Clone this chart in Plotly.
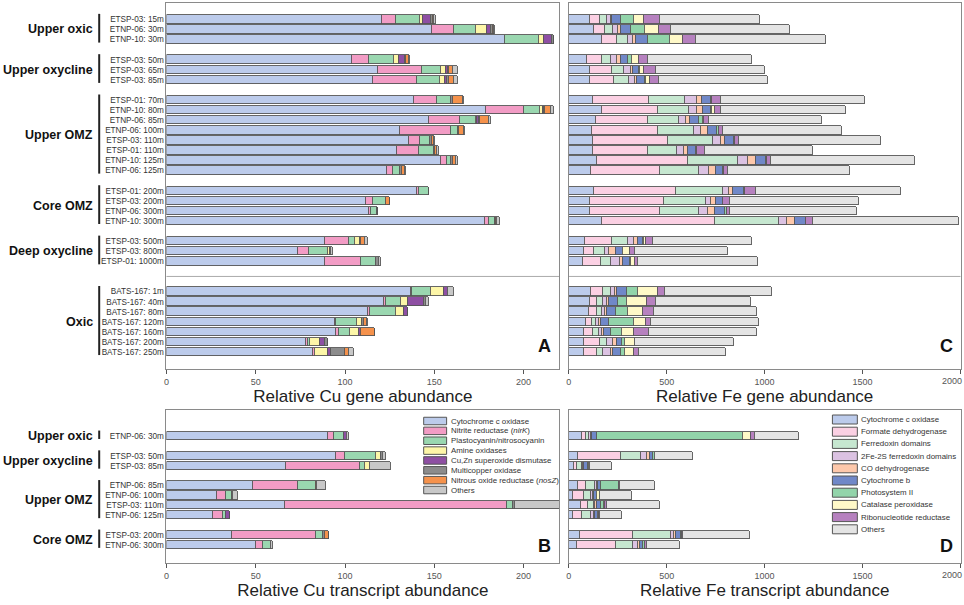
import plotly.graph_objects as go

# ---------------- data ----------------
cu_categories = ["Cytochrome c oxidase", "Nitrite reductase (<i>nirK</i>)", "Plastocyanin/nitrosocyanin",
                 "Amine oxidases", "Cu,Zn superoxide dismutase", "Multicopper oxidase",
                 "Nitrous oxide reductase (<i>nosZ</i>)", "Others"]
fe_categories = ["Cytochrome c oxidase", "Formate dehydrogenase", "Ferredoxin domains",
                 "2Fe-2S ferredoxin domains", "CO dehydrogenase", "Cytochrome b",
                 "Photosystem II", "Catalase peroxidase", "Ribonucleotide reductase", "Others"]

gene_groups = ["Upper oxic", "Upper oxycline", "Upper OMZ", "Core OMZ", "Deep oxycline", "Oxic"]
gene_group_sizes = [3, 3, 8, 4, 3, 7]
gene_group_gaps = [1, 1, 1, 1, 2]
gene_samples = ["ETSP-03: 15m", "ETNP-06: 30m", "ETNP-10: 30m",
                "ETSP-03: 50m", "ETSP-03: 65m", "ETSP-03: 85m",
                "ETSP-01: 70m", "ETNP-10: 80m", "ETNP-06: 85m", "ETNP-06: 100m",
                "ETSP-03: 110m", "ETSP-01: 110m", "ETNP-10: 125m", "ETNP-06: 125m",
                "ETSP-01: 200m", "ETSP-03: 200m", "ETNP-06: 300m", "ETNP-10: 300m",
                "ETSP-03: 500m", "ETSP-03: 800m", "ETSP-01: 1000m",
                "BATS-167: 1m", "BATS-167: 40m", "BATS-167: 80m", "BATS-167: 120m",
                "BATS-167: 160m", "BATS-167: 200m", "BATS-167: 250m"]

tx_groups = ["Upper oxic", "Upper oxycline", "Upper OMZ", "Core OMZ"]
tx_group_sizes = [1, 2, 4, 2]
tx_group_gaps = [1, 1, 1]
tx_samples = ["ETNP-06: 30m", "ETSP-03: 50m", "ETSP-03: 85m",
              "ETNP-06: 85m", "ETNP-06: 100m", "ETSP-03: 110m", "ETNP-06: 125m",
              "ETSP-03: 200m", "ETNP-06: 300m"]

# Relative Cu gene abundance (panel A)
cu_gene_cyto = [120.4, 148.3, 189.5, 103.5, 118, 115.4, 138.3, 178.7, 146.7, 130.3, 135.3, 129, 153.2, 123,
                139.9, 111.4, 113.4, 178.1, 88.6, 73.6, 88.6, 136.7, 121.8, 112.8, 93.9, 94.9, 78, 82]
cu_gene_nirk = [7.6, 12.3, 0, 9.9, 24.7, 24.5, 12.9, 21.3, 17.5, 28.5, 6.6, 12.3, 3.4, 3.8,
                1.4, 4, 1, 2, 13.3, 6, 19.9, 0.6, 1, 1, 0.6, 1.2, 1, 1]
cu_gene_plasto = [13.7, 12.5, 18.9, 14, 10.5, 12.9, 7.6, 9, 8.9, 4, 5.4, 8, 2.6, 3.9,
                  5.4, 7, 3, 3.6, 3.2, 10.4, 8.5, 10.6, 8.5, 14.2, 12, 6.4, 1.2, 0]
cu_gene_amine = [1.6, 6, 2.6, 2.6, 3, 3, 0, 1.5, 0.8, 0, 0, 0, 0, 0,
                 0, 0, 0, 0, 3, 1.1, 0, 7.3, 3.6, 4.7, 3, 5, 5.4, 7.4]
cu_gene_sod = [4.6, 2.4, 4.5, 3.3, 1, 1, 0.4, 0.5, 0.8, 0, 0, 0, 0, 0,
               0, 0, 0, 0, 0, 0, 0, 2, 8.8, 2.2, 0, 1.4, 3, 1.6]
cu_gene_multi = [1, 1.2, 1, 0.8, 1, 1.4, 1, 1, 0.8, 0.8, 1.4, 1, 1, 1,
                 0, 0.4, 1, 0.8, 0.8, 1, 2, 0, 1.6, 0, 0.6, 0, 1.4, 7.5]
cu_gene_nosz = [0.8, 0.5, 0, 1.2, 2, 2.6, 5.6, 3, 4.6, 2.6, 0.6, 1, 1.6, 1.6,
                0, 2, 0, 0.6, 2, 0, 0, 0, 0, 0, 1.8, 7.5, 0, 2.6]
cu_gene_others = [0.8, 0.5, 0.4, 0.6, 2.6, 2.4, 0.8, 1.9, 1.6, 0.6, 0.6, 1.2, 1.4, 0.7,
                  0, 0, 0, 1.6, 1.6, 0.8, 1, 3.4, 1.4, 0, 0.6, 0, 0, 2.8]

# Relative Fe gene abundance (panel C)
fe_gene_cyto = [105, 130, 170, 90, 107, 105, 122, 166, 136, 119, 122, 122, 141, 114,
                127, 105, 105, 166, 80, 76, 73, 110, 105, 102, 85, 76, 76, 76]
fe_gene_formate = [51, 56, 76, 76, 110, 127, 288, 287, 267, 334, 383, 281, 466, 352,
                   419, 378, 361, 580, 140, 51, 88, 63, 39, 39, 30, 46, 82, 65]
fe_gene_ferredoxin = [36, 38, 54, 46, 63, 73, 183, 161, 156, 183, 229, 148, 257, 198,
                      242, 215, 200, 325, 80, 56, 51, 39, 31, 25, 24, 31, 34, 32]
fe_gene_fe2s = [20, 27, 25, 34, 37, 31, 60, 39, 38, 39, 42, 34, 48, 51,
                29, 27, 46, 44, 31, 20, 47, 25, 17, 17, 14, 13, 33, 42]
fe_gene_co = [8, 15, 17, 20, 10, 11, 25, 30, 22, 33, 21, 25, 42, 34,
              22, 24, 34, 38, 20, 39, 17, 9, 11, 9, 8, 12, 21, 10]
fe_gene_cytb = [43, 51, 60, 36, 29, 43, 47, 42, 45, 50, 45, 39, 51, 39,
                56, 39, 51, 56, 27, 34, 34, 51, 46, 50, 42, 34, 22, 38]
fe_gene_psii = [71, 73, 112, 20, 8, 5, 4, 7, 19, 8, 5, 4, 7, 5,
                4, 0, 8, 0, 7, 0, 7, 54, 48, 60, 131, 59, 20, 22]
fe_gene_catalase = [47, 71, 67, 34, 21, 17, 0, 14, 7, 0, 0, 0, 0, 0,
                    0, 0, 0, 0, 10, 34, 18, 103, 101, 76, 61, 63, 51, 49]
fe_gene_rnr = [85, 59, 66, 47, 61, 46, 46, 30, 25, 19, 22, 39, 17, 21,
               54, 34, 17, 37, 32, 29, 17, 38, 46, 54, 24, 73, 0, 22]
fe_gene_others = [510, 607, 663, 529, 552, 556, 734, 639, 578, 608, 726, 554, 737, 623,
                  742, 656, 648, 746, 509, 471, 611, 542, 485, 529, 552, 551, 505, 446]

# Relative Cu transcript abundance (panel B)
cu_tx_cyto = [90.3, 94.8, 66.9, 48.4, 27.9, 66.1, 25.9, 36.2, 50.1]
cu_tx_nirk = [3.5, 4.8, 41.2, 24.8, 5.3, 124.5, 5.3, 47.4, 3.6]
cu_tx_plasto = [5.4, 17.5, 3, 10, 3.2, 3.4, 2, 4, 4.4]
cu_tx_amine = [0, 2.9, 2.6, 0, 0, 0, 0, 0, 0]
cu_tx_sod = [1.6, 0, 0, 0, 0, 0, 2, 0, 0]
cu_tx_multi = [0, 1, 0, 0, 0.5, 1, 0, 0.8, 0]
cu_tx_nosz = [0, 0, 0, 1, 0, 0, 0, 2.5, 0]
cu_tx_others = [1, 1.6, 11.7, 5, 3, 26, 0, 0, 1]

# Relative Fe transcript abundance (panel D)
fe_tx_cyto = [68, 46, 24, 46, 20, 63, 20, 54, 41]
fe_tx_formate = [17, 217, 17, 39, 54, 34, 46, 274, 197]
fe_tx_ferredoxin = [17, 105, 25, 50, 39, 29, 47, 192, 91]
fe_tx_fe2s = [8, 30, 5, 8, 9, 9, 14, 14, 25]
fe_tx_co = [5, 13, 5, 5, 8, 8, 8, 12, 10]
fe_tx_cytb = [27, 20, 20, 16, 14, 21, 13, 25, 15]
fe_tx_psii = [747, 10, 8, 93, 0, 13, 0, 5, 10]
fe_tx_catalase = [38, 0, 5, 0, 12, 5, 3, 0, 0]
fe_tx_rnr = [22, 0, 0, 5, 0, 13, 5, 7, 8]
fe_tx_others = [224, 193, 109, 175, 166, 271, 113, 340, 170]

cu_gene_series = [cu_gene_cyto, cu_gene_nirk, cu_gene_plasto, cu_gene_amine,
                  cu_gene_sod, cu_gene_multi, cu_gene_nosz, cu_gene_others]
fe_gene_series = [fe_gene_cyto, fe_gene_formate, fe_gene_ferredoxin, fe_gene_fe2s, fe_gene_co,
                  fe_gene_cytb, fe_gene_psii, fe_gene_catalase, fe_gene_rnr, fe_gene_others]
cu_tx_series = [cu_tx_cyto, cu_tx_nirk, cu_tx_plasto, cu_tx_amine,
                cu_tx_sod, cu_tx_multi, cu_tx_nosz, cu_tx_others]
fe_tx_series = [fe_tx_cyto, fe_tx_formate, fe_tx_ferredoxin, fe_tx_fe2s, fe_tx_co,
                fe_tx_cytb, fe_tx_psii, fe_tx_catalase, fe_tx_rnr, fe_tx_others]

# ---------------- style ----------------
cu_colors = ["#bccbeb", "#f29cc5", "#9ad7b0", "#fdf6a8", "#8e4fa3", "#8c8c8c", "#f5924c", "#c8c8c8"]
fe_colors = ["#bccbeb", "#fbd0e3", "#c6e7d0", "#dbc2e2", "#fdc8ab", "#7088c8",
             "#92d4aa", "#fff9c8", "#b681bf", "#e4e4e4"]
FONT = "Liberation Sans, Arial, sans-serif"
W, H = 964, 605


def px(x):
    return x / W


def py(y):
    return 1 - y / H


def slot_positions(sizes, gaps):
    pos, spans, cur = [], [], 0
    for i, n in enumerate(sizes):
        spans.append((cur, cur + n - 1))
        pos.extend(range(cur, cur + n))
        cur += n + (gaps[i] if i < len(gaps) else 0)
    return pos, spans


gene_pos, gene_spans = slot_positions(gene_group_sizes, gene_group_gaps)
tx_pos, tx_spans = slot_positions(tx_group_sizes, tx_group_gaps)

fig = go.Figure()
LINE = dict(color="#555555", width=0.9)


def add_bars(series, colors, names, ypos, xa, ya):
    for vals, col, name in zip(series, colors, names):
        fig.add_trace(go.Bar(x=vals, y=ypos, orientation="h", marker=dict(color=col, line=LINE),
                             width=0.84, name=name, showlegend=False, xaxis=xa, yaxis=ya,
                             hoverinfo="x+y+name"))


add_bars(cu_gene_series, cu_colors, cu_categories, gene_pos, "x", "y")
add_bars(fe_gene_series, fe_colors, fe_categories, gene_pos, "x2", "y2")
add_bars(cu_tx_series, cu_colors, cu_categories, tx_pos, "x3", "y3")
add_bars(fe_tx_series, fe_colors, fe_categories, tx_pos, "x4", "y4")

# panel pixel geometry
A_X = (164, 558)
C_X = (567.5, 960.5)
TOP_Y = (3, 369)
BOT_Y = (410, 563)
ROW0_TOP, STEP_TOP = 19.4, 10.08
ROW0_BOT, STEP_BOT = 436.0, 9.9
top_range = [(TOP_Y[1] - ROW0_TOP) / STEP_TOP, (TOP_Y[0] - ROW0_TOP) / STEP_TOP]
bot_range = [(BOT_Y[1] - ROW0_BOT) / STEP_BOT, (BOT_Y[0] - ROW0_BOT) / STEP_BOT]
FE_MAX = 2000

TICKFONT = dict(size=9, color="#555", family=FONT)
frame = dict(showline=True, linecolor="#8a8a8a", linewidth=1, mirror=True, showgrid=False, zeroline=False)
xcommon = dict(frame, ticks="outside", ticklen=4, tickcolor="#555", tickwidth=1,
               tickfont=TICKFONT,
               title_font=dict(size=17, color="#222", family=FONT), title_standoff=4)


def xax(dom, rng, dtick, title):
    return dict(xcommon, domain=[px(dom[0]), px(dom[1])], range=rng, tick0=0, dtick=dtick,
                title_text=title)


def yax(dom, rng, vals, text, show):
    return dict(frame, domain=[py(dom[1]), py(dom[0])], range=rng, tickvals=vals, ticktext=text,
                showticklabels=show, ticks="", ticklabelstandoff=0,
                tickfont=dict(size=8.2, color="#333", family=FONT))


fig.update_layout(
    width=W, height=H, margin=dict(l=0, r=0, t=0, b=0),
    paper_bgcolor="white", plot_bgcolor="white", barmode="stack", bargap=0,
    font=dict(family=FONT, color="#222"),
    xaxis=dict(xax(A_X, [0, 220], 50, "Relative Cu gene abundance"), anchor="y"),
    yaxis=dict(yax(TOP_Y, top_range, gene_pos, gene_samples, True), anchor="x"),
    xaxis2=dict(xax(C_X, [0, FE_MAX], 500, "Relative Fe gene abundance"), anchor="y2"),
    yaxis2=dict(yax(TOP_Y, top_range, gene_pos, gene_samples, False), anchor="x2"),
    xaxis3=dict(xax(A_X, [0, 220], 50, "Relative Cu transcript abundance"), anchor="y3"),
    yaxis3=dict(yax(BOT_Y, bot_range, tx_pos, tx_samples, True), anchor="x3"),
    xaxis4=dict(xax(C_X, [0, FE_MAX], 500, "Relative Fe transcript abundance"), anchor="y4"),
    yaxis4=dict(yax(BOT_Y, bot_range, tx_pos, tx_samples, False), anchor="x4"),
)

annotations, shapes = [], []

# group labels with vertical bars
for groups, spans, yref in [(gene_groups, gene_spans, "y"), (tx_groups, tx_spans, "y3")]:
    for name, (a, b) in zip(groups, spans):
        annotations.append(dict(text="<b>%s</b>" % name, xref="paper", x=px(92.5), xanchor="right",
                                yref=yref, y=(a + b) / 2, yanchor="middle", showarrow=False,
                                font=dict(size=12.5, color="#111", family=FONT)))
        shapes.append(dict(type="line", xref="paper", x0=px(96.5), x1=px(96.5), yref=yref,
                           y0=a - 0.55, y1=b + 0.3, line=dict(color="#222", width=2)))

# separator between OMZ stations and BATS
sep = (gene_spans[4][1] + gene_spans[5][0]) / 2
for xr, yr in [("x", "y"), ("x2", "y2")]:
    shapes.append(dict(type="line", xref=xr + " domain", x0=0, x1=1, yref=yr, y0=sep, y1=sep,
                       line=dict(color="#aaaaaa", width=1), layer="below"))

# last Fe tick label (the axis hides it at the page edge): right-aligned under its tick
for xr, yr in [("x2", "y2"), ("x4", "y4")]:
    annotations.append(dict(text=str(FE_MAX), xref=xr, x=FE_MAX, yref=yr + " domain", y=0,
                            xanchor="right", yanchor="top", xshift=3, yshift=-5, showarrow=False,
                            font=TICKFONT))

# panel letters
for letter, xr, yr in [("A", "x", "y"), ("C", "x2", "y2"), ("B", "x3", "y3"), ("D", "x4", "y4")]:
    annotations.append(dict(text="<b>%s</b>" % letter, xref=xr + " domain", yref=yr + " domain",
                            x=0.985, y=0.03, xanchor="right", yanchor="bottom", showarrow=False,
                            font=dict(size=18, color="#111", family=FONT)))


# legends (drawn as swatch + label)
def add_legend(names, colors, x0, y0, step, sw_w, sw_h):
    for i, (name, col) in enumerate(zip(names, colors)):
        yc = y0 + i * step
        shapes.append(dict(type="rect", xref="paper", yref="paper", x0=px(x0), x1=px(x0 + sw_w),
                           y0=py(yc + sw_h / 2), y1=py(yc - sw_h / 2),
                           fillcolor=col, line=dict(color="#555555", width=1)))
        annotations.append(dict(text=name, xref="paper", yref="paper", x=px(x0 + sw_w + 2),
                                y=py(yc), xanchor="left", yanchor="middle", showarrow=False,
                                font=dict(size=7.9, color="#333", family=FONT)))


add_legend(cu_categories, cu_colors, 422, 421, 9.86, 23, 7.5)
add_legend(fe_categories, fe_colors, 832, 419.5, 12.2, 25, 9)

fig.update_layout(annotations=annotations, shapes=shapes)
fig.write_html("out.html", config={"displayModeBar": False},
               post_script="document.documentElement.style.overflow='hidden';"
                           "document.body.style.margin='0';document.body.style.overflow='hidden';")
